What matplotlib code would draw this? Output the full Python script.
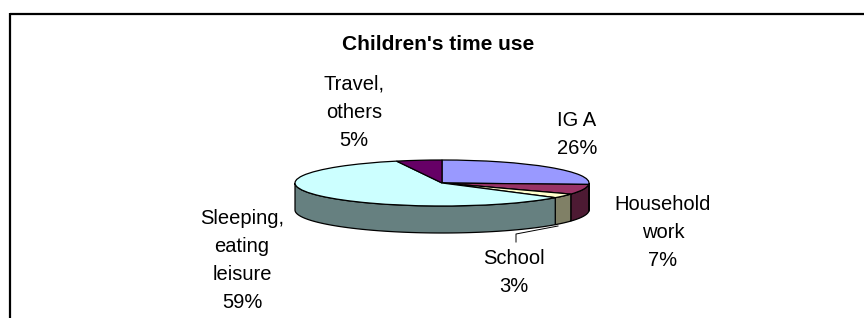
import numpy as np
import matplotlib
matplotlib.use("Agg")
import matplotlib.pyplot as plt
from matplotlib.colors import to_rgb

# Данные
labels = ["IG A", "Household\nwork", "School", "Sleeping,\neating\nleisure", "Travel,\nothers"]
shares = [26, 7, 3, 59, 5]
top_colors = ["#9999FF", "#993366", "#FFFFCC", "#CCFFFF", "#660066"]
title = "Children's time use"

plt.rcParams['font.family'] = ['Liberation Sans', 'DejaVu Sans']

W, H = 864, 318
fig = plt.figure(figsize=(W / 100, H / 100), dpi=100)

# Пирог: радиус 1 = 147 px по x и 23 px по y (эллипс)
cx, cy = 442, 183
rx, ry = 147, 23
depth = 27 / ry

axp = fig.add_axes([0, 0, 1, 1])
wedges, _ = axp.pie(shares, colors=top_colors, startangle=90, counterclock=False,
                    wedgeprops=dict(edgecolor='black', linewidth=0.9))
axp.set_aspect('auto')
axp.set_xlim(-cx / rx, (W - cx) / rx)
axp.set_ylim(-(H - cy) / ry, cy / ry)
axp.axis('off')

# Боковая стенка (видимая передняя половина)
for w, c in zip(wedges, top_colors):
    side = tuple(v * 0.5 for v in to_rgb(c))
    a = w.theta1 % 360
    b = a + (w.theta2 - w.theta1)
    for lo, hi in [(180, 360), (540, 720)]:
        s, e = max(a, lo), min(b, hi)
        if e <= s:
            continue
        t = np.radians(np.linspace(s, e, 80))
        xs = np.cos(t)
        ys = np.sin(t)
        px = np.concatenate([xs, xs[::-1]])
        py = np.concatenate([ys, ys[::-1] - depth])
        axp.fill(px, py, facecolor=side, edgecolor='black', linewidth=0.9, zorder=0.5)

# Оверлей в пикселях: рамка, подписи
ax = fig.add_axes([0, 0, 1, 1])
ax.set_xlim(0, W)
ax.set_ylim(H, 0)
ax.patch.set_visible(False)
ax.axis('off')

ax.plot([10, W], [13.5, 13.5], color='black', lw=1.6, solid_capstyle='butt')
ax.plot([10, 10], [13, H], color='black', lw=1.6, solid_capstyle='butt')

ax.text(438, 44, title, ha='center', va='center', fontsize=15, fontweight='bold')

label_pos = [(577, 135), (663, 232), (514, 273), (242, 260), (354, 112)]
for lab, val, (x, y) in zip(labels, shares, label_pos):
    ax.text(x, y, f"{lab}\n{val}%", ha='center', va='center', fontsize=14.5,
            linespacing=1.6)

# выноска для School
ax.plot([558, 516, 516], [226, 234, 242], color='black', lw=0.7)

fig.savefig("out.png", dpi=100)
